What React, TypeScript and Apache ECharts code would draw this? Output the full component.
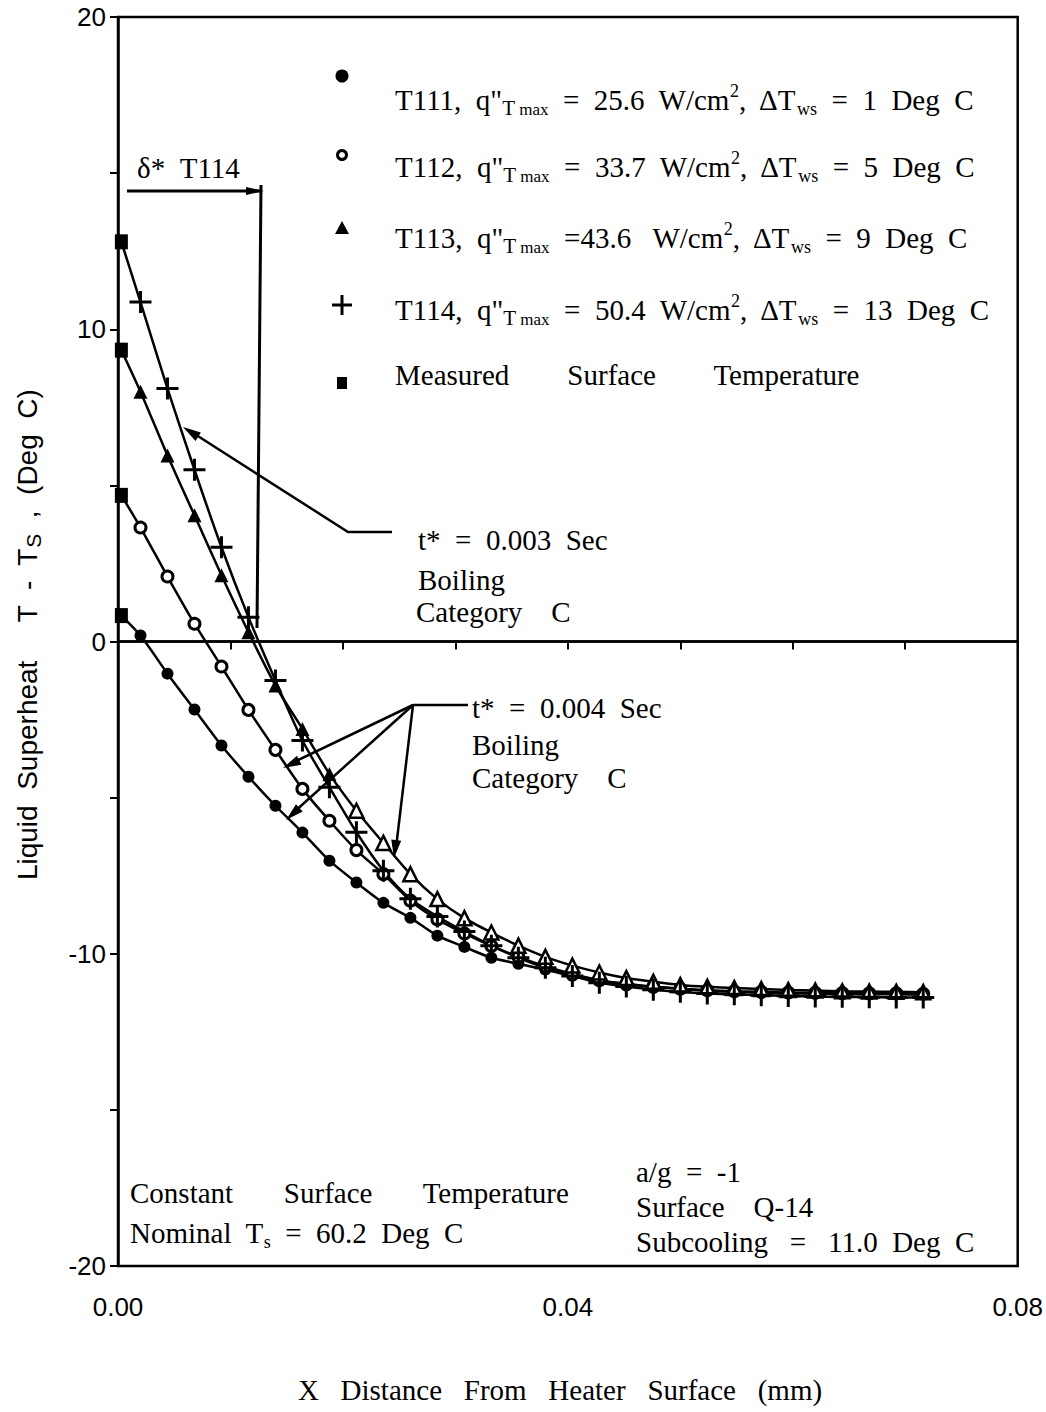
import React, { useEffect, useRef } from 'react';
import * as echarts from 'echarts';

// ---------- data ----------
const X_SURFACE = 0.0003;
const X_POSITIONS = [
  0.0020, 0.0044, 0.0068, 0.0092, 0.0116, 0.0140, 0.0164, 0.0188, 0.0212, 0.0236,
  0.0260, 0.0284, 0.0308, 0.0332, 0.0356, 0.0380, 0.0404, 0.0428, 0.0452, 0.0476,
  0.0500, 0.0524, 0.0548, 0.0572, 0.0596, 0.0620, 0.0644, 0.0668, 0.0692, 0.0716,
];

const MEASURED_T111 = 0.83;
const MEASURED_T112 = 4.68;
const MEASURED_T113 = 9.33;
const MEASURED_T114 = 12.8;

const T111 = [
  0.19, -1.03, -2.18, -3.33, -4.33, -5.26, -6.12, -7.02, -7.72, -8.37,
  -8.85, -9.42, -9.78, -10.13, -10.32, -10.51, -10.71, -10.87, -10.96, -11.06,
  -11.12, -11.19, -11.22, -11.25, -11.27, -11.28, -11.29, -11.3, -11.3, -11.31,
];
const T112 = [
  3.65, 2.08, 0.57, -0.8, -2.19, -3.47, -4.72, -5.74, -6.68, -7.45,
  -8.3, -8.9, -9.35, -9.75, -10.1, -10.4, -10.65, -10.85, -10.98, -11.06,
  -11.12, -11.17, -11.2, -11.22, -11.24, -11.25, -11.26, -11.27, -11.27, -11.28,
];
const T113 = [
  8.0, 5.96, 4.04, 2.12, 0.3, -1.41, -2.8, -4.24, -5.42, -6.45,
  -7.45, -8.25, -8.86, -9.32, -9.74, -10.1, -10.38, -10.6, -10.78, -10.9,
  -11.0, -11.06, -11.1, -11.13, -11.16, -11.18, -11.2, -11.21, -11.22, -11.23,
];
const T114 = [
  10.87, 8.1, 5.5, 3.02, 0.78, -1.25, -3.17, -4.67, -6.11, -7.34,
  -8.24, -8.81, -9.29, -9.74, -10.13, -10.45, -10.71, -10.93, -11.05, -11.15,
  -11.22, -11.27, -11.3, -11.33, -11.35, -11.37, -11.38, -11.39, -11.4, -11.4,
];

const X_TICK_LABELS = ['0.00', '0.04', '0.08'];
const Y_TICK_LABELS = ['-20', '-10', '0', '10', '20'];

// ---------- styling ----------
const SERIF = '"Liberation Serif", "DejaVu Serif", serif';
const NARROW = '"Liberation Sans Narrow", "Liberation Sans", sans-serif';
const BLACK = '#000';
const FS = 29;
const OPEN_TRIANGLE_FROM = 8;
const PLUS_PATH = 'path://M9.5,0H12.5V9.5H22V12.5H12.5V22H9.5V12.5H0V9.5H9.5Z';

const RICH = {
  b: { fontSize: FS, fontFamily: SERIF, lineHeight: 36, fill: BLACK },
  subT: { fontSize: 21, fontFamily: SERIF, lineHeight: 19, verticalAlign: 'bottom', fill: BLACK },
  subM: { fontSize: 17, fontFamily: SERIF, lineHeight: 17, verticalAlign: 'bottom', fill: BLACK },
  sub: { fontSize: 18, fontFamily: SERIF, lineHeight: 18, verticalAlign: 'bottom', fill: BLACK },
  sup: { fontSize: 18, fontFamily: SERIF, lineHeight: 18, verticalAlign: 'top', fill: BLACK },
};

function measuredPoint(v: number) {
  return {
    value: [X_SURFACE, v],
    symbol: 'rect',
    symbolSize: [13, 15],
    itemStyle: { color: BLACK },
  };
}

function lineSeries(name: string, measured: number, values: number[], pointStyle: (i: number) => any) {
  return {
    name,
    type: 'line',
    smooth: 0.25,
    lineStyle: { color: BLACK, width: 2.5 },
    showAllSymbol: true,
    z: 3,
    data: [measuredPoint(measured), ...values.map((v, i) => ({ value: [X_POSITIONS[i], v], ...pointStyle(i) }))],
  };
}

function arrow(tx: number, ty: number, fx: number, fy: number, len = 16, half = 5) {
  const dx = tx - fx;
  const dy = ty - fy;
  const d = Math.hypot(dx, dy);
  const ux = dx / d;
  const uy = dy / d;
  const bx = tx - ux * len;
  const by = ty - uy * len;
  return {
    type: 'polygon',
    shape: { points: [[tx, ty], [bx - uy * half, by + ux * half], [bx + uy * half, by - ux * half]] },
    style: { fill: BLACK },
  };
}

function txt(x: number, y: number, text: string, extra: any = {}) {
  return {
    type: 'text',
    x,
    y,
    style: {
      text,
      fill: BLACK,
      fontFamily: SERIF,
      fontSize: FS,
      align: 'left',
      verticalAlign: 'middle',
      rich: RICH,
      ...extra,
    },
  };
}

function seg(x1: number, y1: number, x2: number, y2: number, w = 2.5) {
  return { type: 'line', shape: { x1, y1, x2, y2 }, style: { stroke: BLACK, lineWidth: w } };
}

export default function App() {
  const ref = useRef<HTMLDivElement>(null);

  useEffect(() => {
    document.body.style.margin = '0';
    if (!ref.current) return;
    const chart = echarts.init(ref.current, null, { renderer: 'svg' });

    const legendX = 342;
    const graphic: any[] = [
      // legend markers
      { type: 'circle', shape: { cx: legendX, cy: 76, r: 6.5 }, style: { fill: BLACK } },
      { type: 'circle', shape: { cx: legendX, cy: 155, r: 4.5 }, style: { fill: '#fff', stroke: BLACK, lineWidth: 3 } },
      { type: 'polygon', shape: { points: [[legendX, 221], [legendX - 7, 234], [legendX + 7, 234]] }, style: { fill: BLACK } },
      { type: 'rect', shape: { x: legendX - 10, y: 303.5, width: 20, height: 3 }, style: { fill: BLACK } },
      { type: 'rect', shape: { x: legendX - 1.5, y: 295, width: 3, height: 20 }, style: { fill: BLACK } },
      { type: 'rect', shape: { x: legendX - 5, y: 377, width: 10, height: 12 }, style: { fill: BLACK } },
      // legend text
      txt(395, 100, '{b|T111,  q"}{subT|T}{subM| max}{b|  =  25.6  W/cm}{sup|2}{b|,  ΔT}{sub|ws}{b|  =  1  Deg  C}'),
      txt(395, 167, '{b|T112,  q"}{subT|T}{subM| max}{b|  =  33.7  W/cm}{sup|2}{b|,  ΔT}{sub|ws}{b|  =  5  Deg  C}'),
      txt(395, 238, '{b|T113,  q"}{subT|T}{subM| max}{b|  =43.6   W/cm}{sup|2}{b|,  ΔT}{sub|ws}{b|  =  9  Deg  C}'),
      txt(395, 310, '{b|T114,  q"}{subT|T}{subM| max}{b|  =  50.4  W/cm}{sup|2}{b|,  ΔT}{sub|ws}{b|  =  13  Deg  C}'),
      txt(395, 375, 'Measured        Surface        Temperature'),
      // delta* bracket
      txt(137, 168, 'δ*  T114'),
      seg(127, 191, 262, 191, 3),
      arrow(264, 191, 127, 191, 18, 4),
      seg(261, 185, 257, 628, 3),
      // t* = 0.003 annotation
      { type: 'polyline', shape: { points: [[190, 431], [348, 532], [392, 532]] }, style: { stroke: BLACK, lineWidth: 2.5, fill: null } },
      arrow(183, 427, 348, 532, 18, 5),
      txt(418, 540, 't*  =  0.003  Sec'),
      txt(418, 580, 'Boiling'),
      txt(416, 612, 'Category    C'),
      // t* = 0.004 annotation
      { type: 'polyline', shape: { points: [[468, 705], [413, 705]] }, style: { stroke: BLACK, lineWidth: 2.5, fill: null } },
      seg(413, 705, 290, 764),
      seg(413, 705, 293, 813),
      seg(413, 705, 396, 848),
      arrow(283, 768, 413, 705, 18, 5),
      arrow(286, 820, 413, 705, 18, 5),
      arrow(394, 858, 413, 705, 18, 5),
      txt(472, 708, 't*  =  0.004  Sec'),
      txt(472, 745, 'Boiling'),
      txt(472, 778, 'Category    C'),
      // bottom notes
      txt(130, 1193, 'Constant       Surface       Temperature'),
      txt(130, 1233, '{b|Nominal  T}{sub|s}{b|  =  60.2  Deg  C}'),
      txt(636, 1172, 'a/g  =  -1'),
      txt(636, 1207, 'Surface    Q-14'),
      txt(636, 1242, 'Subcooling   =   11.0  Deg  C'),
      // axis titles
      {
        type: 'text',
        x: 27,
        y: 635,
        rotation: Math.PI / 2,
        style: {
          text: '{a|Liquid  Superheat     T  -  T}{s|S}{a|  ,  (Deg  C)}',
          align: 'center',
          verticalAlign: 'middle',
          fill: BLACK,
          rich: {
            a: { fontSize: 28, fontFamily: NARROW, fill: BLACK, lineHeight: 34 },
            s: { fontSize: 21, fontFamily: NARROW, fill: BLACK, lineHeight: 24, verticalAlign: 'bottom' },
          },
        },
      },
      {
        type: 'text',
        x: 560,
        y: 1390,
        style: {
          text: 'X   Distance   From   Heater   Surface   (mm)',
          align: 'center',
          verticalAlign: 'middle',
          fill: BLACK,
          fontFamily: SERIF,
          fontSize: 29,
        },
      },
    ];

    const option: any = {
      animation: false,
      backgroundColor: '#fff',
      grid: { left: 118, right: 28, top: 17, bottom: 146, show: true, borderColor: BLACK, borderWidth: 2.5, containLabel: false },
      xAxis: {
        type: 'value',
        min: 0,
        max: 0.08,
        interval: 0.01,
        axisLine: { lineStyle: { color: BLACK, width: 2.5 } },
        axisTick: { length: 8, lineStyle: { color: BLACK, width: 2 } },
        splitLine: { show: false },
        axisLabel: {
          margin: 28,
          color: BLACK,
          fontFamily: NARROW,
          fontSize: 26,
          formatter: (v: number) => {
            const h = Math.round(v * 100);
            return h % 4 === 0 ? X_TICK_LABELS[h / 4] : '';
          },
        },
      },
      yAxis: {
        type: 'value',
        min: -20,
        max: 20,
        interval: 5,
        axisLine: { lineStyle: { color: BLACK, width: 2.5 } },
        axisTick: { length: 8, lineStyle: { color: BLACK, width: 2 } },
        splitLine: { show: false },
        axisLabel: {
          margin: 12,
          color: BLACK,
          fontFamily: NARROW,
          fontSize: 26,
          formatter: (v: number) => {
            const r = Math.round(v);
            return r % 10 === 0 ? Y_TICK_LABELS[(r + 20) / 10] : '';
          },
        },
      },
      series: [
        {
          ...lineSeries('T111', MEASURED_T111, T111, () => ({
            symbol: 'circle',
            symbolSize: 12,
            itemStyle: { color: BLACK },
          })),
          markLine: {
            silent: true,
            symbol: ['none', 'none'],
            label: { show: false },
            lineStyle: { color: BLACK, width: 2.5, type: 'solid' },
            data: [{ yAxis: 0 }],
          },
        },
        lineSeries('T112', MEASURED_T112, T112, () => ({
          symbol: 'circle',
          symbolSize: 11,
          itemStyle: { color: '#fff', borderColor: BLACK, borderWidth: 3 },
        })),
        lineSeries('T113', MEASURED_T113, T113, (i) =>
          i >= OPEN_TRIANGLE_FROM
            ? { symbol: 'triangle', symbolSize: 14, itemStyle: { color: '#fff', borderColor: BLACK, borderWidth: 2.5 } }
            : { symbol: 'triangle', symbolSize: 14, itemStyle: { color: BLACK } }
        ),
        lineSeries('T114', MEASURED_T114, T114, () => ({
          symbol: PLUS_PATH,
          symbolSize: 22,
          itemStyle: { color: BLACK },
        })),
      ],
      graphic,
    };

    chart.setOption(option);
    return () => chart.dispose();
  }, []);

  return <div ref={ref} style={{ width: 1046, height: 1412 }} />;
}
